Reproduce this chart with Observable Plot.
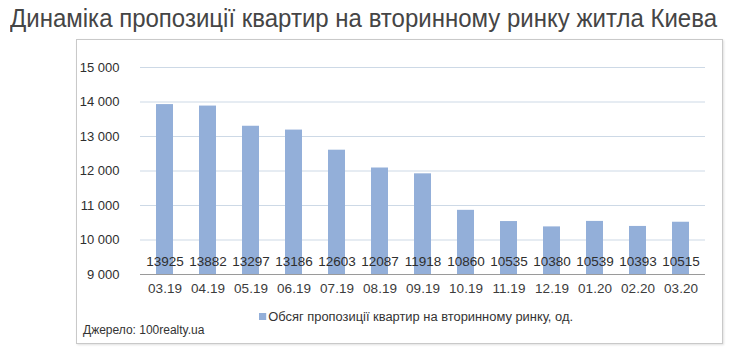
<!DOCTYPE html>
<html>
<head>
<meta charset="utf-8">
<script src="https://cdn.jsdelivr.net/npm/d3@7"></script>
<script src="https://cdn.jsdelivr.net/npm/@observablehq/plot@0.6"></script>
<style>
  html, body { margin: 0; padding: 0; background: #fff; }
  #wrap { position: relative; width: 739px; height: 363px; overflow: hidden; font-family: "Liberation Sans", Arial, sans-serif; }
  #title { position: absolute; left: 10px; top: 4px; font-family: "Liberation Sans", Arial, sans-serif; font-size: 25px; color: #454545; white-space: nowrap; transform-origin: 0 0; }
  #box { position: absolute; left: 76px; top: 39px; width: 645px; height: 303px; border: 1.5px solid #c9c9c9; box-shadow: 1px 1px 2px rgba(0,0,0,0.12); }
  #chart { position: absolute; left: 0; top: 0; }
  #legend { position: absolute; left: 259px; top: 310px; font-family: "Liberation Sans", Arial, sans-serif; font-size: 12.5px; color: #333; white-space: nowrap; transform-origin: 0 0; }
  #legend span.sw { display: inline-block; width: 7px; height: 7px; background: #93afd9; margin-right: 2px; vertical-align: 1px; }
  #source { position: absolute; left: 83px; top: 323px; font-size: 12px; color: #333; white-space: nowrap; }
</style>
</head>
<body>
<div id="wrap">
  <div id="title">Динаміка пропозиції квартир на вторинному ринку житла Киева</div>
  <div id="box"></div>
  <div id="chart"></div>
  <div id="legend"><span class="sw"></span>Обсяг пропозиції квартир на вторинному ринку, од.</div>
  <div id="source">Джерело: 100realty.ua</div>
</div>
<script>
const months = ["03.19","04.19","05.19","06.19","07.19","08.19","09.19","10.19","11.19","12.19","01.20","02.20","03.20"];
const values = [13925,13882,13297,13186,12603,12087,11918,10860,10535,10380,10539,10393,10515];
const yTicks = [9000,10000,11000,12000,13000,14000,15000];

const data = months.map((m, i) => ({month: m, value: values[i]}));
const fmt = d => d3.format(",")(d).replace(/,/g, " ");

const chart = Plot.plot({
  width: 739,
  height: 300,
  marginLeft: 140,
  marginRight: 34,
  marginTop: 67,
  marginBottom: 26,
  style: {fontFamily: "'Liberation Sans', Arial, sans-serif", fontSize: "13px", color: "#404040", background: "transparent"},
  x: {domain: months, paddingInner: 0.61, paddingOuter: 0.305, label: null},
  y: {domain: [9000, 15000], label: null},
  marks: [
    Plot.gridY(yTicks, {stroke: "#cdd9e6", strokeOpacity: 1, strokeWidth: 1}),
    Plot.barY(data, {x: "month", y1: 9000, y2: "value", fill: "#93afd9"}),
    Plot.ruleY([9000], {stroke: "#9a9a9a", strokeWidth: 1}),
    Plot.text(data, {x: "month", y: 9000, text: d => String(d.value), dy: -13, fill: "#2e2e2e", fontSize: 13.5}),
    Plot.axisY(yTicks, {tickSize: 0, tickPadding: 21, tickFormat: fmt, fill: "#2e2e2e", fontSize: 13}),
    Plot.axisX({tickSize: 0, tickPadding: 9, fill: "#3c3c3c", fontSize: 13.5})
  ]
});
document.getElementById("chart").appendChild(chart);

function fitWidth(id, target) {
  const el = document.getElementById(id);
  const w = el.getBoundingClientRect().width;
  if (w > 0) el.style.transform = `scaleX(${target / w})`;
}
fitWidth("title", 707);
fitWidth("legend", 314);
</script>
</body>
</html>
